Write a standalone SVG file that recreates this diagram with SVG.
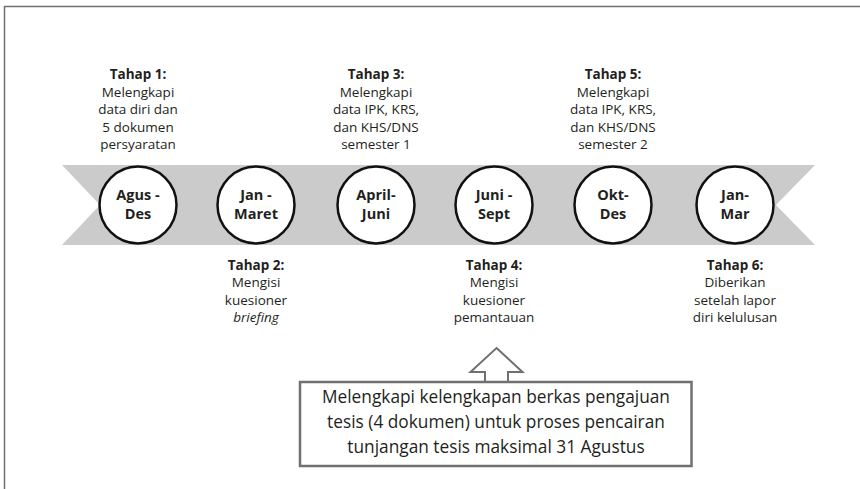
<svg xmlns="http://www.w3.org/2000/svg" width="860" height="489" viewBox="0 0 860 489">
<style>
.t{font-family:"Open Sans","Noto Sans",sans-serif;font-size:13.5px;fill:#231f20;text-anchor:middle}
.b{font-weight:bold}
.c{fill:#fff;stroke:#111;stroke-width:2.5}
.cl{font-family:"Open Sans","Noto Sans",sans-serif;font-size:14.5px;font-weight:bold;fill:#231f20;text-anchor:middle}
.bx{font-family:"Open Sans","Noto Sans",sans-serif;font-size:17.3px;fill:#231f20;text-anchor:middle}
</style>
<rect width="860" height="489" fill="#fff"/>
<path d="M4.5 489 V6.5 H860" fill="none" stroke="#707070" stroke-width="1.5"/>
<g id="band">
<polygon points="62,165 815,165 776,205 815,245 62,245 100,205" fill="#cbcbcb"/>
</g>
<g id="n1"><circle class="c" cx="138" cy="205" r="38.5"/><text class="cl" x="138" y="200">Agus -</text><text class="cl" x="138" y="219">Des</text></g>
<g id="n2"><circle class="c" cx="256" cy="205" r="38.5"/><text class="cl" x="256" y="200">Jan -</text><text class="cl" x="256" y="219">Maret</text></g>
<g id="n3"><circle class="c" cx="376" cy="205" r="38.5"/><text class="cl" x="376" y="200">April-</text><text class="cl" x="376" y="219">Juni</text></g>
<g id="n4"><circle class="c" cx="494" cy="205" r="38.5"/><text class="cl" x="494" y="200">Juni -</text><text class="cl" x="494" y="219">Sept</text></g>
<g id="n5"><circle class="c" cx="613" cy="205" r="38.5"/><text class="cl" x="613" y="200">Okt-</text><text class="cl" x="613" y="219">Des</text></g>
<g id="n6"><circle class="c" cx="735" cy="205" r="38.5"/><text class="cl" x="735" y="200">Jan-</text><text class="cl" x="735" y="219">Mar</text></g>
<g id="s1"><text class="t b" x="138" y="79">Tahap 1:</text><text class="t" x="138" y="96.5">Melengkapi</text><text class="t" x="138" y="114">data diri dan</text><text class="t" x="138" y="131.5">5 dokumen</text><text class="t" x="138" y="149">persyaratan</text></g>
<g id="s3"><text class="t b" x="376" y="79">Tahap 3:</text><text class="t" x="376" y="96.5">Melengkapi</text><text class="t" x="376" y="114">data IPK, KRS,</text><text class="t" x="376" y="131.5">dan KHS/DNS</text><text class="t" x="376" y="149">semester 1</text></g>
<g id="s5"><text class="t b" x="613" y="79">Tahap 5:</text><text class="t" x="613" y="96.5">Melengkapi</text><text class="t" x="613" y="114">data IPK, KRS,</text><text class="t" x="613" y="131.5">dan KHS/DNS</text><text class="t" x="613" y="149">semester 2</text></g>
<g id="s2"><text class="t b" x="256" y="270">Tahap 2:</text><text class="t" x="256" y="287">Mengisi</text><text class="t" x="256" y="304.5">kuesioner</text><text class="t" x="256" y="322" font-style="italic">briefing</text></g>
<g id="s4"><text class="t b" x="494" y="270">Tahap 4:</text><text class="t" x="494" y="287">Mengisi</text><text class="t" x="494" y="304.5">kuesioner</text><text class="t" x="494" y="322">pemantauan</text></g>
<g id="s6"><text class="t b" x="735" y="270">Tahap 6:</text><text class="t" x="735" y="287">Diberikan</text><text class="t" x="735" y="304.5">setelah lapor</text><text class="t" x="735" y="322">diri kelulusan</text></g>
<g id="connectors">
<polygon points="496.5,348 522.5,372 508,372 508,382 485,382 485,372 470.5,372" fill="#fff" stroke="#707070" stroke-width="2"/>
</g>
<g id="box">
<rect x="300" y="382" width="391.5" height="84" fill="#fff" stroke="#707070" stroke-width="2.5"/>
<text class="bx" x="496" y="403">Melengkapi kelengkapan berkas pengajuan</text>
<text class="bx" x="496" y="428">tesis (4 dokumen) untuk proses pencairan</text>
<text class="bx" x="496" y="453">tunjangan tesis maksimal 31 Agustus</text>
</g>
</svg>
